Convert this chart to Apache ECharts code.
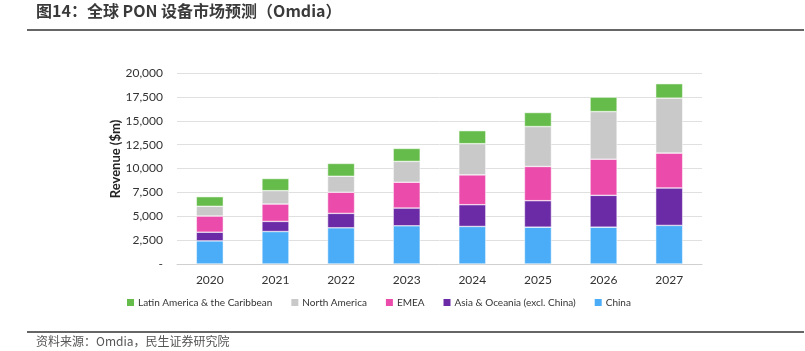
<!DOCTYPE html>
<html>
<head>
<meta charset="utf-8">
<script src="https://cdn.jsdelivr.net/npm/echarts@6/dist/echarts.min.js"></script>
<style>
html, body { margin: 0; padding: 0; background: #fff; }
#chart { width: 805px; height: 351px; }
</style>
</head>
<body>
<div id="chart"></div>
<script>
// data ($m)
const years = ["2020", "2021", "2022", "2023", "2024", "2025", "2026", "2027"];
const china = [2420, 3400, 3790, 4000, 3930, 3860, 3860, 4040];
const asiaOceania = [910, 1060, 1510, 1860, 2280, 2770, 3330, 3920];
const emea = [1690, 1820, 2210, 2700, 3120, 3580, 3790, 3650];
const northAmerica = [1020, 1400, 1680, 2180, 3270, 4180, 4980, 5760];
const latinAmerica = [1010, 1270, 1340, 1360, 1360, 1470, 1510, 1510];
const yTicks = [0, 2500, 5000, 7500, 10000, 12500, 15000, 17500, 20000];

const font = "Lato, 'Noto Sans', sans-serif";
const cjk = "'Noto Sans CJK SC', sans-serif";

function bar(name, data, color) {
	return {
		name: name,
		type: "bar",
		stack: "total",
		barWidth: 27,
		data: data,
		itemStyle: { color: color, borderColor: "#fff", borderWidth: 0.5 },
	};
}

let myChart = echarts.init(document.getElementById("chart"));
let option = {
	animation: false,
	graphic: [
		{
			type: "text",
			left: 36,
			top: 3,
			style: { text: "图14：全球 PON 设备市场预测（Omdia）", font: "bold 16px " + cjk, fill: "#3a3a3a" },
		},
		{
			type: "rect",
			shape: { x: 27, y: 29, width: 777, height: 2 },
			style: { fill: "#666" },
		},
		{
			type: "rect",
			shape: { x: 27, y: 331, width: 777, height: 2 },
			style: { fill: "#666" },
		},
		{
			type: "text",
			left: 36,
			top: 335,
			style: { text: "资料来源：Omdia，民生证券研究院", font: "12px " + cjk, fill: "#555" },
		},
		{
			// y axis title, placed by hand like the original
			type: "text",
			x: 116,
			y: 159,
			rotation: Math.PI / 2,
			style: {
				text: "Revenue ($m)",
				font: "bold 13px " + font,
				fill: "#222",
				align: "center",
				verticalAlign: "middle",
			},
		},
	],
	grid: { left: 177, right: 103, top: 73, bottom: 87 },
	legend: {
		left: 120,
		top: 292,
		itemWidth: 9,
		itemHeight: 9,
		itemGap: 17,
		icon: "rect",
		textStyle: { fontFamily: font, fontSize: 10, color: "#333", padding: [0, 0, 0, -2] },
		data: ["Latin America & the Caribbean", "North America", "EMEA", "Asia & Oceania (excl. China)", "China"],
	},
	xAxis: {
		type: "category",
		data: years,
		axisLine: { lineStyle: { color: "#d0d0d0", width: 1 } },
		axisTick: { show: false },
		axisLabel: { margin: 10, fontFamily: font, fontSize: 12, color: "#333" },
	},
	yAxis: {
		type: "value",
		min: 0,
		max: 20000,
		interval: 2500,
		axisLine: { show: false },
		axisTick: { show: false },
		splitLine: { lineStyle: { color: "#e0e0e0", width: 1 } },
		axisLabel: {
			margin: 14,
			fontFamily: font,
			fontSize: 12,
			color: "#333",
			formatter: (v) => (v === yTicks[0] ? "-" : v.toLocaleString("en-US")),
		},
	},
	series: [
		bar("China", china, "#4badf7"),
		bar("Asia & Oceania (excl. China)", asiaOceania, "#6c2ba6"),
		bar("EMEA", emea, "#eb4cab"),
		bar("North America", northAmerica, "#c9c9c9"),
		bar("Latin America & the Caribbean", latinAmerica, "#66bc4b"),
	],
};
myChart.setOption(option);
</script>
</body>
</html>
